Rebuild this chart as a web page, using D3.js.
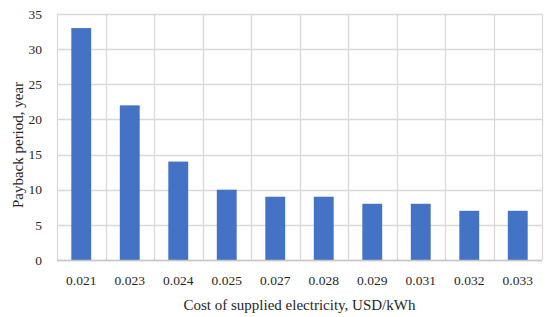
<!DOCTYPE html>
<html><head><meta charset="utf-8">
<script src="https://cdn.jsdelivr.net/npm/d3@7"></script>
<style>body{margin:0;background:#fff}svg{display:block}</style>
</head><body>
<svg id="c" width="550" height="317"></svg>
<script>
const categories = ["0.021","0.023","0.024","0.025","0.027","0.028","0.029","0.031","0.032","0.033"];
const payback = [33,22,14,10,9,9,8,8,7,7];
const yTicks = [0,5,10,15,20,25,30,35];
const xTitle = "Cost of supplied electricity, USD/kWh";
const yTitle = "Payback period, year";

const svg = d3.select("#c");
const m = {l:57, r:542, t:14, b:260};
const font = "'Liberation Serif', 'DejaVu Serif', serif";
const ink = "#262626";
const x = d3.scaleBand().domain(categories).range([m.l, m.r]);
const y = d3.scaleLinear().domain([0,35]).range([m.b, m.t]);

// horizontal gridlines
svg.append("g").selectAll("line").data(yTicks).join("line")
  .attr("x1", m.l).attr("x2", m.r)
  .attr("y1", d=>Math.round(y(d))+0.5).attr("y2", d=>Math.round(y(d))+0.5)
  .attr("stroke", "#d9d9d9").attr("stroke-width", 1.3);
// vertical gridlines
const edges = categories.map(c=>x(c)).concat([m.r]);
svg.append("g").selectAll("line").data(edges).join("line")
  .attr("x1", d=>Math.round(d)+0.5).attr("x2", d=>Math.round(d)+0.5)
  .attr("y1", m.t).attr("y2", m.b)
  .attr("stroke", "#d9d9d9").attr("stroke-width", 1.3);

// bars
const bw = x.bandwidth()*0.41;
svg.append("g").selectAll("rect").data(payback).join("rect")
  .attr("x", (d,i)=>x(categories[i]) + x.bandwidth()/2 - bw/2)
  .attr("width", bw)
  .attr("y", d=>y(d)).attr("height", d=>y(0)-y(d))
  .attr("fill", "#4472c4");

// baseline
svg.append("line").attr("x1", m.l).attr("x2", m.r)
  .attr("y1", Math.round(y(0))+0.5).attr("y2", Math.round(y(0))+0.5)
  .attr("stroke", "#c8c8c8").attr("stroke-width", 1.3);

// y tick labels
svg.append("g").selectAll("text").data(yTicks).join("text")
  .attr("x", 42).attr("y", d=>y(d)).attr("dy", "0.35em")
  .attr("text-anchor", "end")
  .style("font-family", font).style("font-size", "13.5px").attr("fill", ink)
  .text(d=>d);
// x tick labels
svg.append("g").selectAll("text").data(categories).join("text")
  .attr("x", d=>x(d)+x.bandwidth()/2).attr("y", 280).attr("dy", "0.35em")
  .attr("text-anchor", "middle")
  .style("font-family", font).style("font-size", "13.5px").attr("fill", ink)
  .text(d=>d);
// titles
svg.append("text").attr("x", 299.5).attr("y", 305).attr("dy","0.35em")
  .attr("text-anchor","middle")
  .style("font-family", font).style("font-size", "15px").attr("fill", ink)
  .text(xTitle);
svg.append("text").attr("transform", `translate(18,145) rotate(-90)`)
  .attr("dy","0.35em").attr("text-anchor","middle")
  .style("font-family", font).style("font-size", "15px").attr("fill", ink)
  .text(yTitle);
</script>
</body></html>
